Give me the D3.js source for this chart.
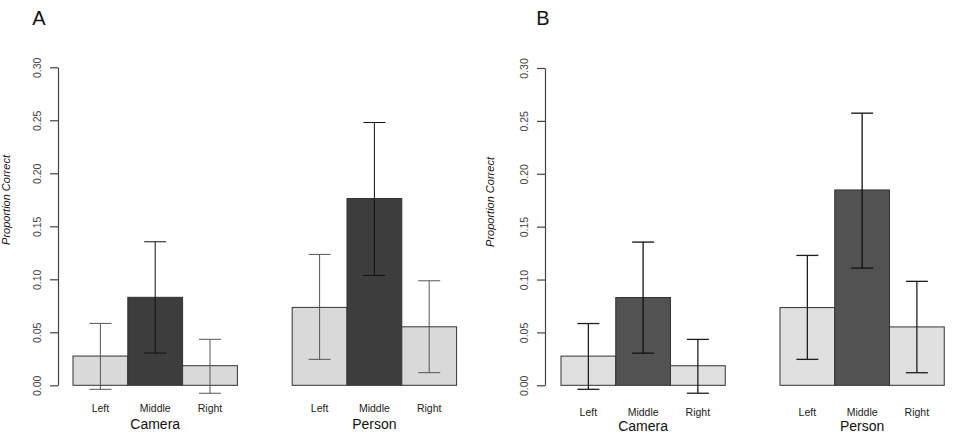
<!DOCTYPE html>
<html>
<head>
<meta charset="utf-8">
<script src="https://cdn.jsdelivr.net/npm/d3@7/dist/d3.min.js"></script>
<style>
  html, body { margin: 0; padding: 0; background: #fff; }
  svg { display: block; font-family: "Liberation Sans", Arial, Helvetica, sans-serif; }
</style>
</head>
<body>
<svg id="chart" width="958" height="434"></svg>
<script>
// ---- data ----
const panelLabels = ["A", "B"];
const groups = ["Camera", "Person"];
const categories = ["Left", "Middle", "Right"];
const yTicks = [0, 0.05, 0.10, 0.15, 0.20, 0.25, 0.30];
const yAxisTitle = "Proportion Correct";

// Panel A
const aCameraMean  = [0.0276, 0.0830, 0.0185];
const aCameraLower = [-0.0038, 0.0304, -0.0075];
const aCameraUpper = [0.0584, 0.1354, 0.0434];
const aPersonMean  = [0.0735, 0.1762, 0.0552];
const aPersonLower = [0.0245, 0.1037, 0.0119];
const aPersonUpper = [0.1235, 0.2479, 0.0986];

// Panel B
const bCameraMean  = [0.0276, 0.0830, 0.0185];
const bCameraLower = [-0.0038, 0.0304, -0.0075];
const bCameraUpper = [0.0584, 0.1354, 0.0434];
const bPersonMean  = [0.0735, 0.1847, 0.0552];
const bPersonLower = [0.0245, 0.1108, 0.0119];
const bPersonUpper = [0.1228, 0.2573, 0.0983];

// ---- layout / style (not data) ----
const svg = d3.select("#chart");

const panels = [
  {
    label: panelLabels[0],
    means: [aCameraMean, aPersonMean], lowers: [aCameraLower, aPersonLower], uppers: [aCameraUpper, aPersonUpper],
    axisX: 58, yTop: 67.3, yBottom: 385.3, xStart: 73, xEnd: 456.6,
    light: "#d9d9d9", dark: "#3d3d3d", err: "#555", errDark: "#111", errW: 1,
    letterX: 39, letterY: 25,
    titleX: 10, titleY: 200,
    catY: 412, grpY: 429, grpY2: 429
  },
  {
    label: panelLabels[1],
    means: [bCameraMean, bPersonMean], lowers: [bCameraLower, bPersonLower], uppers: [bCameraUpper, bPersonUpper],
    axisX: 545, yTop: 68, yBottom: 385.3, xStart: 561, xEnd: 944.25,
    light: "#e0e0e0", dark: "#525252", err: "#1e1e1e", errDark: "#111", errW: 1.3,
    letterX: 543, letterY: 25,
    titleX: 494, titleY: 202,
    catY: 415.5, grpY: 431, grpY2: 431
  }
];

panels.forEach(p => {
  const g = svg.append("g");
  const y = d3.scaleLinear().domain([0, 0.30]).range([p.yBottom, p.yTop]);
  // 3 bars, one-bar gap, 3 bars => 7 slots
  const x = d3.scaleLinear().domain([0, 7]).range([p.xStart, p.xEnd]);
  const bw = x(1) - x(0);

  // panel letter
  g.append("text").attr("x", p.letterX).attr("y", p.letterY)
    .attr("text-anchor", "middle").attr("font-size", 20).attr("fill", "#111")
    .text(p.label);

  // y axis
  const axis = d3.axisLeft(y).tickValues(yTicks).tickSize(8).tickSizeOuter(0)
    .tickFormat(d3.format(".2f"));
  const ag = g.append("g").attr("transform", `translate(${p.axisX},0)`).call(axis);
  ag.select(".domain").attr("stroke", "#444").attr("stroke-width", 1.2);
  ag.selectAll(".tick line").attr("stroke", "#444").attr("stroke-width", 1.2);
  ag.selectAll(".tick text")
    .attr("x", null).attr("dy", null)
    .attr("transform", "translate(-17,0) rotate(-90)")
    .attr("text-anchor", "middle")
    .attr("font-size", 10.5).attr("fill", "#444")
    .attr("font-family", "Liberation Sans, Arial, sans-serif");

  // y axis title
  g.append("text")
    .attr("transform", `translate(${p.titleX},${p.titleY}) rotate(-90)`)
    .attr("text-anchor", "middle").attr("font-size", 11).attr("font-style", "italic")
    .attr("fill", "#111").text(yAxisTitle);

  groups.forEach((grp, gi) => {
    const rows = categories.map((c, ci) => ({
      cat: c, slot: gi * 4 + ci,
      mean: p.means[gi][ci], lo: p.lowers[gi][ci], hi: p.uppers[gi][ci]
    }));
    const gg = g.append("g");

    gg.selectAll("rect").data(rows).join("rect")
      .attr("x", d => x(d.slot)).attr("width", bw)
      .attr("y", d => y(d.mean)).attr("height", d => y(0) - y(d.mean))
      .attr("fill", d => d.cat === "Middle" ? p.dark : p.light)
      .attr("stroke", "#333").attr("stroke-width", 1);

    const eb = gg.selectAll("g.eb").data(rows).join("g").attr("class", "eb")
      .attr("stroke", d => d.cat === "Middle" ? p.errDark : p.err)
      .attr("stroke-width", p.errW);
    const cx = d => x(d.slot + 0.5);
    const cap = 11;
    eb.append("line").attr("x1", cx).attr("x2", cx)
      .attr("y1", d => y(d.lo)).attr("y2", d => y(d.hi));
    eb.append("line").attr("x1", d => cx(d) - cap).attr("x2", d => cx(d) + cap)
      .attr("y1", d => y(d.hi)).attr("y2", d => y(d.hi));
    eb.append("line").attr("x1", d => cx(d) - cap).attr("x2", d => cx(d) + cap)
      .attr("y1", d => y(d.lo)).attr("y2", d => y(d.lo));

    gg.selectAll("text.cat").data(rows).join("text").attr("class", "cat")
      .attr("x", d => x(d.slot + 0.5)).attr("y", p.catY)
      .attr("text-anchor", "middle").attr("font-size", 10.5).attr("fill", "#222")
      .text(d => d.cat);

    gg.append("text")
      .attr("x", x(gi * 4 + 1.5)).attr("y", gi === 0 ? p.grpY : p.grpY2)
      .attr("text-anchor", "middle").attr("font-size", 14).attr("fill", "#111")
      .text(grp);
  });
});
</script>
</body>
</html>
